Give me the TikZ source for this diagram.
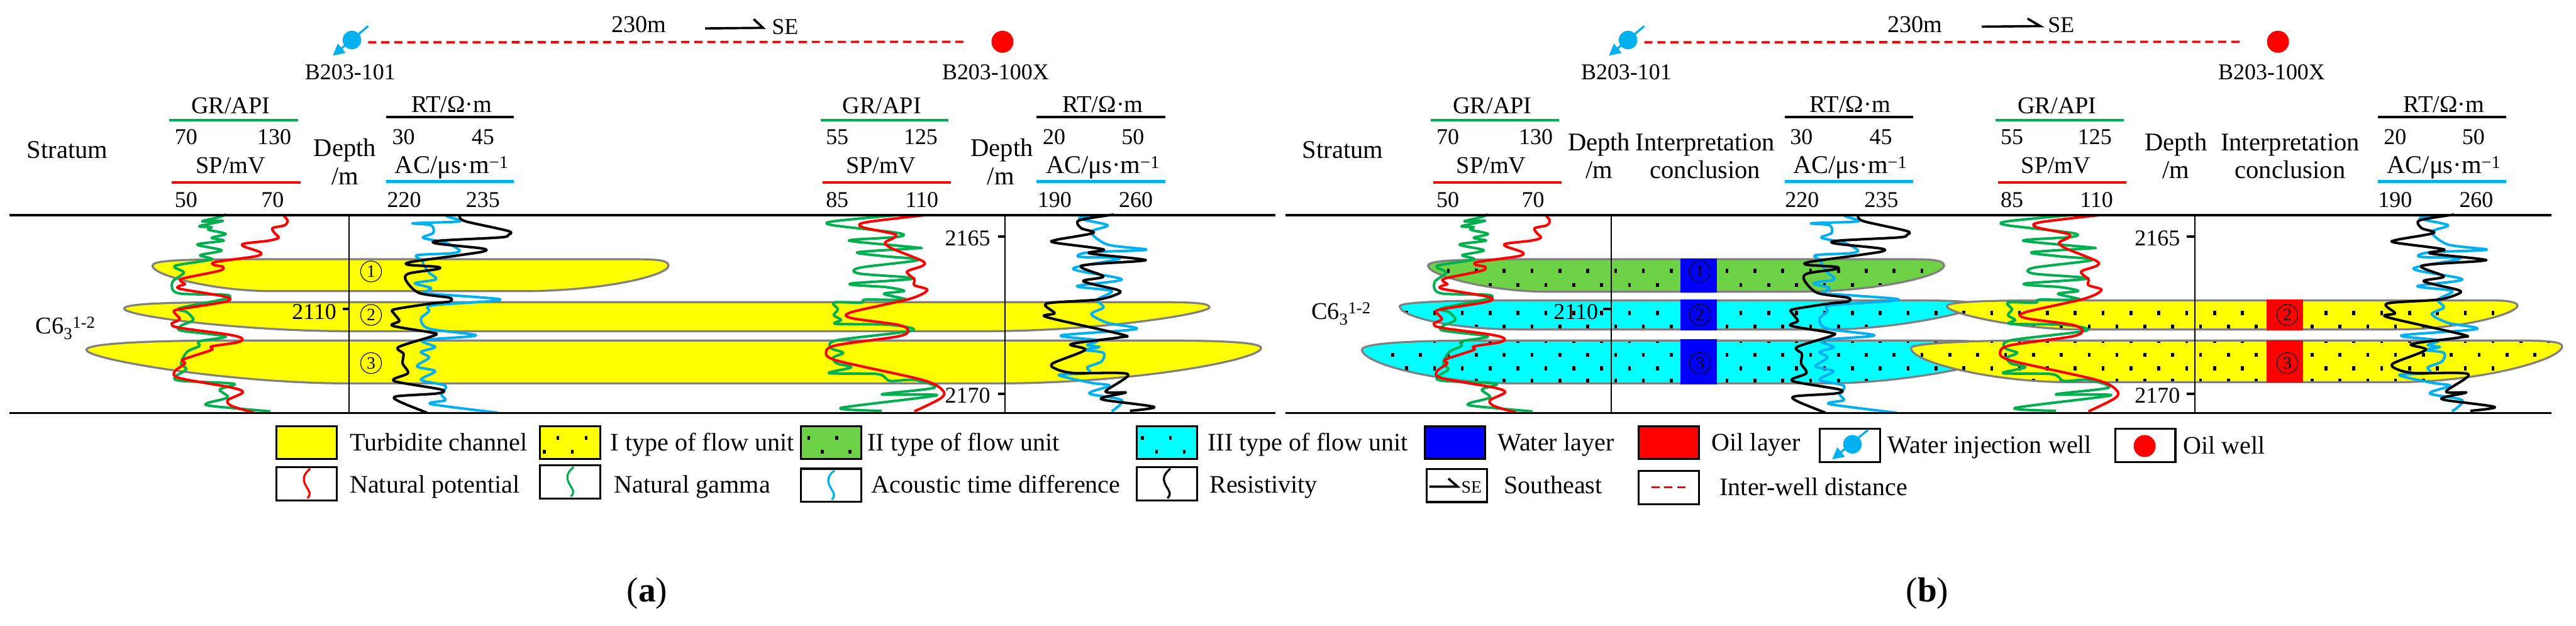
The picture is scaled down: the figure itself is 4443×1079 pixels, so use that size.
\documentclass[tikz,border=0pt]{standalone}
\usepackage{fontspec}
\setmainfont{Liberation Serif}
\usetikzlibrary{arrows.meta}

\definecolor{loggreen}{HTML}{00B050}
\definecolor{logblue}{HTML}{00B0F0}
\definecolor{chanyel}{HTML}{FFFF00}
\definecolor{flowgreen}{HTML}{6DD246}
\definecolor{flowcyan}{HTML}{00FFFF}
\definecolor{barblue}{HTML}{0000FF}

\tikzset{
  lab/.style={font=\fontsize{44}{48}\selectfont,inner sep=0pt,anchor=base},
  hdr/.style={font=\fontsize{41.5}{48}\selectfont,inner sep=0pt,anchor=base},
  num/.style={font=\fontsize{39}{48}\selectfont,inner sep=0pt,anchor=base},
  leg/.style={font=\fontsize{43.5}{48}\selectfont,inner sep=0pt,anchor=base west},
  figcap/.style={font=\fontsize{60}{64}\selectfont,inner sep=0pt,anchor=base},
  cnum/.style={circle,draw,line width=1.2pt,minimum size=36pt,inner sep=0pt,font=\fontsize{30}{32}\selectfont},
  legbox/.style={draw,line width=3.5pt,minimum width=104pt,minimum height=57pt,inner sep=0pt},
  rule/.style={line width=4pt},
  vrule/.style={line width=2.5pt},
  tick/.style={line width=4.5pt},
  chanline/.style={draw=gray,line width=3.5pt},
  trace/.style={shift={(#1pt,-360pt)},x=.7015pt,y=-.3333pt},
  logline/.style={line width=4.4pt,line join=round},
  hdrline/.style={line width=4.5pt},
  distline/.style={red,line width=4pt,dash pattern=on 14pt off 8.5pt},
  dirline/.style={line width=4pt},
  injdot/.style={circle,fill=logblue,minimum size=32pt,inner sep=0pt},
  injline/.style={logblue,line width=3.5pt,-{Triangle[length=20pt,width=20pt]}},
  oildot/.style={circle,fill=red,minimum size=38pt,inner sep=0pt}
}

% channel outlines
\newcommand{\chA}{(263,458) .. controls (263,450) and (300,447) .. (420,447) -- (1100,447) .. controls (1140,447) and (1153,450) .. (1153,458) .. controls (1153,475) and (1040,502) .. (900,502) -- (470,502) .. controls (370,502) and (263,475) .. (263,458) -- cycle}
\newcommand{\chB}{(214,532) .. controls (214,524) and (280,521) .. (420,521) -- (2010,521) .. controls (2070,521) and (2086,524) .. (2086,530) .. controls (2086,540) and (1900,571) .. (1700,571) -- (600,571) .. controls (420,571) and (214,545) .. (214,532) -- cycle}
\newcommand{\chC}{(149,603) .. controls (149,592) and (260,587) .. (400,587) -- (2000,587) .. controls (2130,587) and (2175,592) .. (2175,600) .. controls (2175,620) and (1960,661) .. (1720,661) -- (600,661) .. controls (400,661) and (149,620) .. (149,603) -- cycle}
\newcommand{\uGreen}{(2463,458) .. controls (2463,450) and (2500,447) .. (2620,447) -- (3300,447) .. controls (3340,447) and (3353,450) .. (3353,458) .. controls (3353,475) and (3240,503) .. (3100,503) -- (2670,503) .. controls (2570,503) and (2463,475) .. (2463,458) -- cycle}
\newcommand{\uCyanA}{(2414,528) .. controls (2414,522) and (2480,518) .. (2600,518) -- (3300,518) .. controls (3380,518) and (3410,520) .. (3410,528) .. controls (3410,535) and (3280,568) .. (3150,568) -- (2620,568) .. controls (2500,568) and (2414,545) .. (2414,528) -- cycle}
\newcommand{\uCyanB}{(2349,603) .. controls (2349,592) and (2430,587) .. (2560,587) -- (3300,587) .. controls (3420,587) and (3480,590) .. (3480,600) .. controls (3480,620) and (3300,661) .. (3150,661) -- (2620,661) .. controls (2470,661) and (2349,625) .. (2349,603) -- cycle}
\newcommand{\uYelA}{(3358,528) .. controls (3358,520) and (3430,518) .. (3520,518) -- (4300,518) .. controls (4330,518) and (4342,522) .. (4342,527) .. controls (4342,540) and (4250,568) .. (4130,568) -- (3590,568) .. controls (3480,568) and (3358,540) .. (3358,528) -- cycle}
\newcommand{\uYelB}{(3296,600) .. controls (3296,592) and (3400,587) .. (3500,587) -- (4340,587) .. controls (4400,587) and (4419,590) .. (4419,597) .. controls (4419,620) and (4280,659) .. (4130,659) -- (3570,659) .. controls (3440,659) and (3296,625) .. (3296,600) -- cycle}

\newcommand{\flowdots}{%
  \foreach \y in {467,516,563.5,612,657}
    \foreach \x in {2402,2450.05,...,4440} \fill (\x-2.5,\y-3.5) rectangle ++(5,7);
  \foreach \y in {491.5,539.5,588,635}
    \foreach \x in {2426,2474.05,...,4440} \fill (\x-2.5,\y-3.5) rectangle ++(5,7);
}
\newcommand{\flowunit}[2]{%
  \fill[#1] #2;
  \begin{scope} \clip #2; \flowdots \end{scope}
  \draw[chanline] #2;
}
\newcommand{\legdots}[8]{%
  \fill (#1-2.5,#2-3.5) rectangle ++(5,7);
  \fill (#3-2.5,#4-3.5) rectangle ++(5,7);
  \fill (#5-2.5,#6-3.5) rectangle ++(5,7);
  \fill (#7-2.5,#8-3.5) rectangle ++(5,7);
}
\newcommand{\swig}[2]{%
  \begin{scope}[shift={(#2)}]
  \draw[#1,line width=3.5pt] (6,-26) .. controls (-8,-14) and (-7,-6) .. (0,6) .. controls (5,14) and (8,18) .. (1,25);
  \end{scope}
}

% well logs, traced in units of the trace style
\newcommand{\grOne}{\draw[loggreen,logline] plot[smooth,tension=.5] coordinates {(555,28) (540,42) (497,65) (548,62) (490,90) (520,95) (512,108) (555,130) (520,150) (550,165) (485,185) (545,215) (492,240) (520,262) (430,295) (452,330) (425,375) (425,420) (450,440) (555,445) (555,465) (440,515) (460,535) (475,575) (445,605) (445,630) (555,660) (490,685) (490,710) (460,740) (445,800) (458,830) (430,870) (445,890) (575,905) (540,935) (560,975) (510,1005) (520,1020) (665,1048)};}
\newcommand{\spOne}{\draw[red,logline] plot[smooth,tension=.5] coordinates {(695,30) (707,60) (700,85) (670,100) (675,125) (685,150) (660,165) (600,180) (600,195) (640,225) (630,245) (530,275) (525,290) (548,300) (540,320) (450,360) (445,375) (455,390) (440,400) (445,415) (555,455) (555,480) (440,520) (428,535) (442,570) (422,595) (440,615) (560,650) (595,670) (585,690) (520,712) (520,730) (450,780) (455,800) (430,840) (440,875) (570,925) (597,950) (560,990) (570,1020) (625,1055)};}
\newcommand{\acOne}{\draw[logblue,logline] plot[smooth,tension=.5] coordinates {(1095,28) (1100,40) (1130,65) (1015,75) (1060,85) (1065,125) (1040,150) (1095,175) (1130,215) (1110,230) (1025,240) (1040,270) (1040,285) (1055,330) (1072,365) (1020,385) (1060,410) (1040,435) (1060,440) (1220,465) (1205,478) (1060,500) (1055,530) (1035,570) (1055,620) (1170,655) (1040,680) (1070,715) (1035,740) (1055,770) (1025,815) (1070,840) (1035,885) (1095,915) (1085,960) (1095,990) (1060,1010) (1225,1055)};}
\newcommand{\rtOne}{\draw[black,logline] plot[smooth,tension=.5] coordinates {(1130,40) (1145,65) (1250,115) (1250,135) (1230,148) (1080,165) (1075,180) (1185,205) (1190,220) (1130,240) (1010,275) (1005,290) (1075,300) (1075,312) (1005,335) (998,370) (1030,435) (1105,460) (1105,480) (1060,490) (970,520) (968,540) (982,580) (965,605) (1060,640) (1068,655) (980,715) (992,750) (990,800) (1003,850) (968,890) (1085,935) (1075,955) (975,970) (980,995) (1050,1055)};}
\newcommand{\grTwo}{\draw[loggreen,logline] plot[smooth,tension=.5] coordinates {(635,33) (480,65) (480,85) (640,125) (640,145) (530,160) (535,170) (685,200) (680,205) (540,225) (605,245) (690,265) (545,305) (545,335) (680,360) (530,385) (535,395) (610,405) (655,425) (605,440) (660,470) (560,470) (550,485) (482,485) (492,520) (482,550) (500,575) (488,595) (620,600) (675,630) (490,680) (475,720) (505,745) (480,770) (490,800) (525,820) (470,850) (590,855) (620,890) (680,885) (730,925) (600,960) (735,965) (500,1030) (600,1045)};}
\newcommand{\spTwo}{\draw[red,logline] plot[smooth,tension=.5] coordinates {(705,33) (560,70) (552,95) (630,130) (630,150) (608,175) (625,205) (700,270) (700,295) (662,325) (680,365) (680,395) (712,420) (670,465) (525,535) (525,565) (640,600) (665,630) (640,660) (490,705) (463,740) (490,785) (700,885) (750,940) (745,980) (680,1048)};}
\newcommand{\acTwo}{\draw[logblue,logline] plot[smooth,tension=.5] coordinates {(1140,33) (1085,50) (1155,85) (1115,120) (1155,185) (1250,212) (1110,225) (1085,248) (1185,258) (1070,310) (1190,365) (1080,400) (1165,425) (1130,470) (1145,510) (1115,545) (1155,590) (1225,622) (1040,655) (1130,680) (1105,705) (1135,715) (1100,730) (1145,745) (1140,790) (1105,820) (1110,850) (1035,860) (1115,900) (1160,915) (1110,955) (1190,990) (1165,1048)};}
\newcommand{\rtTwo}{\draw[black,logline] plot[smooth,tension=.5] coordinates {(1170,30) (1085,60) (1090,100) (1120,125) (1030,160) (1025,175) (1145,210) (1110,230) (1235,260) (1235,270) (1090,295) (1145,350) (1095,375) (1180,420) (1180,440) (1130,470) (1005,490) (1025,540) (1005,560) (1190,650) (1185,665) (1065,700) (1100,730) (1020,800) (1030,830) (1075,850) (1205,855) (1150,945) (1200,950) (1145,975) (1150,990) (1270,1025) (1210,1045)};}

\begin{document}
\begin{tikzpicture}[x=1pt,y=-1pt]
\useasboundingbox (0,0) rectangle (4443,1079);

% channels of (a)
\fill[chanyel] \chA;
\draw[chanline] \chA;
\fill[chanyel] \chB;
\draw[chanline] \chB;
\fill[chanyel] \chC;
\draw[chanline] \chC;

% flow units of (b)
\flowunit{flowgreen}{\uGreen}
\flowunit{flowcyan}{\uCyanA}
\flowunit{flowcyan}{\uCyanB}
\flowunit{chanyel}{\uYelA}
\flowunit{chanyel}{\uYelB}
\fill[barblue] (2898,446) rectangle (2961,504);
\fill[barblue] (2898,516) rectangle (2961,570);
\fill[barblue] (2898,585) rectangle (2961,663);
\fill[red] (3909,516) rectangle (3972,570);
\fill[red] (3909,587) rectangle (3972,660);

% logs
\begin{scope}[trace=0] \grOne \spOne \acOne \rtOne \end{scope}
\begin{scope}[trace=1100] \grTwo \spTwo \acTwo \rtTwo \end{scope}
\begin{scope}[trace=2177] \grOne \spOne \end{scope}
\begin{scope}[trace=2412] \acOne \rtOne \end{scope}
\begin{scope}[trace=3125] \grTwo \spTwo \end{scope}
\begin{scope}[trace=3412] \acTwo \rtTwo \end{scope}

% frame
\draw[rule] (16,371) -- (2200,371);
\draw[rule] (16,712) -- (2200,712);
\draw[rule] (2217,371) -- (4401,371);
\draw[rule] (2217,712) -- (4401,712);
\draw[vrule] (602,371) -- (602,712);
\draw[vrule] (1733.5,371) -- (1733.5,712);
\draw[vrule] (2779,371) -- (2779,712);
\draw[vrule] (3785.5,371) -- (3785.5,712);
\draw[tick] (591,533) -- (602,533);
\draw[tick] (1721,408) -- (1733,408);
\draw[tick] (1721,679) -- (1733,679);
\draw[tick] (2765,533) -- (2779,533);
\draw[tick] (3772,408) -- (3785,408);
\draw[tick] (3772,679) -- (3785,679);

\node (da2110) [num] at (542,550) {2110};
\node (da2165) [num] at (1669,424) {2165};
\node (da2170) [num] at (1669,695) {2170};
\node (db2110) [num] at (2718,550) {2110};
\node (db2165) [num] at (3721,424) {2165};
\node (db2170) [num] at (3721,695) {2170};
\node (stratA) [hdr] at (113,575) {C6\textsubscript{3}\textsuperscript{1-2}};
\node (stratB) [hdr] at (2313,550) {C6\textsubscript{3}\textsuperscript{1-2}};

\node (n1a) [cnum] at (640,468) {1};
\node (n2a) [cnum] at (640,543) {2};
\node (n3a) [cnum] at (640,626) {3};
\node (n1b) [cnum] at (2932,468) {1};
\node (n2b) [cnum] at (2932,543) {2};
\node (n3b) [cnum] at (2932,626) {3};
\node (n2c) [cnum] at (3945,543) {2};
\node (n3c) [cnum] at (3945,626) {3};

% wells (a)
\node (wiA) [injdot] at (607,69) {};
\node (owA) [oildot] at (1729,72) {};
\coordinate (dsA) at (635,73);
\draw[injline] ([shift={(28,-24)}]wiA.center) -- ([shift={(-33,27)}]wiA.center);
\draw[distline,shorten >=40pt] (dsA) -- (owA);
\node (wnA1) [num] at (604,137) {B203-101};
\node (wnA2) [num] at (1717,137) {B203-100X};
\node (distA) [hdr] at (1102,56) {230m};
\node (seA) [num] at (1354,59) {SE};
\coordinate (seA1) at (1216,49);
\coordinate (seA2) at (1316,48);
\coordinate (seA3) at (1300,33);
\draw[dirline] (seA1) -- (seA2) -- (seA3);

% wells (b)
\node (wiB) [injdot] at (2808,69) {};
\node (owB) [oildot] at (3929,72) {};
\coordinate (dsB) at (2836,73);
\draw[injline] ([shift={(28,-24)}]wiB.center) -- ([shift={(-33,27)}]wiB.center);
\draw[distline,shorten >=39pt] (dsB) -- (owB);
\node (wnB1) [num] at (2805,137) {B203-101};
\node (wnB2) [num] at (3918,137) {B203-100X};
\node (distB) [hdr] at (3303,56) {230m};
\node (seB) [num] at (3555,56) {SE};
\coordinate (seB1) at (3418,46);
\coordinate (seB2) at (3519,45);
\coordinate (seB3) at (3497,32);
\draw[dirline] (seB1) -- (seB2) -- (seB3);

% header (a)
\node (stA) [lab] at (116,273) {Stratum};
\node (grA) [hdr] at (398,196) {GR/API};
\node (gr1A) [num] at (321,249) {70};
\node (gr2A) [num] at (473,249) {130};
\node (spA) [hdr] at (398,299) {SP/mV};
\node (sp1A) [num] at (321,357) {50};
\node (sp2A) [num] at (470,357) {70};
\node (dpA) [lab] at (595,270) {Depth};
\node (muA) [lab] at (595,318) {/m};
\node (rtA) [hdr] at (779,194) {RT/Ω·m};
\node (rt1A) [num] at (696,249) {30};
\node (rt2A) [num] at (833,249) {45};
\node (acA) [lab] at (779,299) {AC/μs·m\textsuperscript{−1}};
\node (ac1A) [num] at (697,357) {220};
\node (ac2A) [num] at (833,357) {235};
\draw[hdrline,loggreen] (292,207) -- (514,207);
\draw[hdrline,red] (296,315) -- (518,315);
\draw[hdrline] (666,202) -- (886,202);
\draw[hdrline,logblue] (666,313) -- (886,313);

\node (gr3A) [hdr] at (1521,196) {GR/API};
\node (gr4A) [num] at (1444,249) {55};
\node (gr5A) [num] at (1588,249) {125};
\node (sp3A) [hdr] at (1519,299) {SP/mV};
\node (sp4A) [num] at (1444,357) {85};
\node (sp5A) [num] at (1590,357) {110};
\node (dp2A) [lab] at (1728,270) {Depth};
\node (mu2A) [lab] at (1726,318) {/m};
\node (rt3A) [hdr] at (1902,194) {RT/Ω·m};
\node (rt4A) [num] at (1818,249) {20};
\node (rt5A) [num] at (1954,249) {50};
\node (ac3A) [lab] at (1902,299) {AC/μs·m\textsuperscript{−1}};
\node (ac4A) [num] at (1819,357) {190};
\node (ac5A) [num] at (1959,357) {260};
\draw[hdrline,loggreen] (1416,207) -- (1636,207);
\draw[hdrline,red] (1419,315) -- (1640,315);
\draw[hdrline] (1788,202) -- (2010,202);
\draw[hdrline,logblue] (1788,313) -- (2010,313);

% header (b)
\node (stB) [lab] at (2316,273) {Stratum};
\node (grB) [hdr] at (2574,196) {GR/API};
\node (gr1B) [num] at (2497,249) {70};
\node (gr2B) [num] at (2649,249) {130};
\node (spB) [hdr] at (2572,299) {SP/mV};
\node (sp1B) [num] at (2497,357) {50};
\node (sp2B) [num] at (2644,357) {70};
\node (dpB) [lab] at (2758,260) {Depth};
\node (muB) [lab] at (2758,308) {/m};
\node (inB) [lab] at (2941,260) {Interpretation};
\node (coB) [lab] at (2941,308) {conclusion};
\node (rtB) [hdr] at (3191,194) {RT/Ω·m};
\node (rt1B) [num] at (3107,249) {30};
\node (rt2B) [num] at (3244,249) {45};
\node (acB) [lab] at (3191,299) {AC/μs·m\textsuperscript{−1}};
\node (ac1B) [num] at (3108,357) {220};
\node (ac2B) [num] at (3245,357) {235};
\draw[hdrline,loggreen] (2468,207) -- (2689,207);
\draw[hdrline,red] (2472,315) -- (2693,315);
\draw[hdrline] (3078,202) -- (3300,202);
\draw[hdrline,logblue] (3078,313) -- (3300,313);

\node (gr3B) [hdr] at (3548,196) {GR/API};
\node (gr4B) [num] at (3470,249) {55};
\node (gr5B) [num] at (3613,249) {125};
\node (sp3B) [hdr] at (3546,299) {SP/mV};
\node (sp4B) [num] at (3470,357) {85};
\node (sp5B) [num] at (3616,357) {110};
\node (dp2B) [lab] at (3753,260) {Depth};
\node (mu2B) [lab] at (3753,308) {/m};
\node (in2B) [lab] at (3950,260) {Interpretation};
\node (co2B) [lab] at (3950,308) {conclusion};
\node (rt3B) [hdr] at (4215,194) {RT/Ω·m};
\node (rt4B) [num] at (4131,249) {20};
\node (rt5B) [num] at (4266,249) {50};
\node (ac3B) [lab] at (4215,299) {AC/μs·m\textsuperscript{−1}};
\node (ac4B) [num] at (4131,357) {190};
\node (ac5B) [num] at (4271,357) {260};
\draw[hdrline,loggreen] (3442,207) -- (3663,207);
\draw[hdrline,red] (3446,315) -- (3667,315);
\draw[hdrline] (4101,202) -- (4323,202);
\draw[hdrline,logblue] (4101,313) -- (4323,313);

% legend
\node (lgChan) [legbox,fill=chanyel] at (529,763) {};
\node (lgI) [legbox,fill=chanyel] at (983.5,763) {};
\node (lgII) [legbox,fill=flowgreen] at (1433.5,763) {};
\node (lgIII) [legbox,fill=flowcyan] at (2013,763) {};
\node (lgWater) [legbox,fill=barblue] at (2509.5,763) {};
\node (lgOil) [legbox,fill=red] at (2878,763) {};
\node (lgInj) [legbox] at (3190.5,768) {};
\node (lgOw) [legbox] at (3700,768) {};
\node (lgSP) [legbox] at (529,834) {};
\node (lgGR) [legbox] at (983.5,831) {};
\node (lgAC) [legbox] at (1433.5,836.5) {};
\node (lgRT) [legbox] at (2012.5,834) {};
\node (lgSE) [legbox] at (2513,837) {};
\node (lgDist) [legbox] at (2878.5,840.5) {};

\legdots{962}{755}{1011}{755}{939}{779}{987}{779}
\legdots{1395}{755}{1443}{755}{1418}{779}{1466}{779}
\legdots{1970.5}{755}{2018.6}{755}{1994.6}{779}{2042.6}{779}
\swig{red}{lgSP}
\swig{loggreen}{lgGR}
\swig{logblue}{lgAC}
\swig{black}{lgRT}

\node (lgInjD) [injdot] at (3195,766) {};
\draw[injline] ([shift={(27,-25)}]lgInjD.center) -- ([shift={(-35,26)}]lgInjD.center);
\node (lgOwD) [oildot] at (3699,769) {};
\coordinate (lgSE1) at (2465,839);
\coordinate (lgSE2) at (2514,839);
\coordinate (lgSE3) at (2498,825);
\draw[dirline] (lgSE1) -- (lgSE2) -- (lgSE3);
\node (lgSEt) [font=\fontsize{30}{32}\selectfont,inner sep=0pt] at (2538,840) {SE};
\coordinate (lgD1) at (2848,840);
\coordinate (lgD2) at (2909,840);
\draw[distline] (lgD1) -- (lgD2);

\node (tx1) [leg] at (603,777) {Turbidite channel};
\node (tx2) [leg] at (1053,777) {I type of flow unit};
\node (tx3) [leg] at (1496,777) {II type of flow unit};
\node (tx4) [leg] at (2083,777) {III type of flow unit};
\node (tx5) [leg] at (2583,777) {Water layer};
\node (tx6) [leg] at (2952,777) {Oil layer};
\node (tx7) [leg] at (3256,782) {Water injection well};
\node (tx8) [leg] at (3765,783) {Oil well};
\node (tx9) [leg] at (603,850) {Natural potential};
\node (tx10) [leg] at (1059,850) {Natural gamma};
\node (tx11) [leg] at (1503,850) {Acoustic time difference};
\node (tx12) [leg] at (2086,850) {Resistivity};
\node (tx13) [leg] at (2594,851) {Southeast};
\node (tx14) [leg] at (2966,854) {Inter-well distance};

\node (capA) [figcap] at (1116,1038) {(\textbf{a})};
\node (capB) [figcap] at (3324,1038) {(\textbf{b})};
\end{tikzpicture}
\end{document}
